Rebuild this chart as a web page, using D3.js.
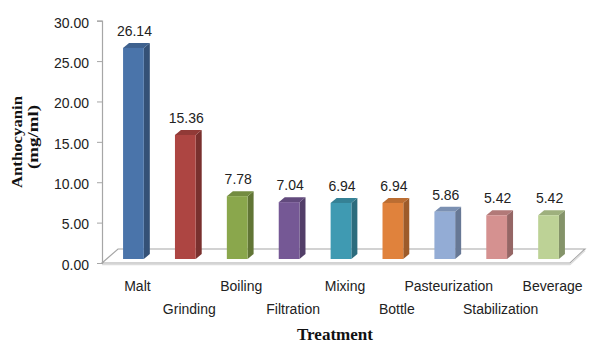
<!DOCTYPE html>
<html>
<head>
<meta charset="utf-8">
<script src="https://cdn.jsdelivr.net/npm/d3@7/dist/d3.min.js"></script>
<style>
  html, body { margin: 0; padding: 0; background: #fff; }
  svg { display: block; }
</style>
</head>
<body>
<svg id="chart" width="589" height="344"></svg>
<script>
const categories = ["Malt", "Grinding", "Boiling", "Filtration", "Mixing", "Bottle", "Pasteurization", "Stabilization", "Beverage"];
const values = [26.14, 15.36, 7.78, 7.04, 6.94, 6.94, 5.86, 5.42, 5.42];
const yTicks = [0, 5, 10, 15, 20, 25, 30];
const barColors = ["#4a74aa", "#ad4542", "#8aa74c", "#755895", "#3f9ab2", "#e0823c", "#93acd5", "#d59190", "#bdd296"];
const yTitleLines = ["Anthocyanin", "(mg/ml)"];
const xTitle = "Treatment";

const svg = d3.select("#chart");
const depthX = 6, depthY = 5;      // bar 3D depth
const floorDX = 16, floorDY = 14;  // floor depth
const barLift = 4;                 // bars stand mid-floor

const y = d3.scaleLinear().domain([0, 30]).range([263, 20.7]);
const x = d3.scaleBand().domain(categories).range([107.5, 574.5]).paddingInner(0.6).paddingOuter(0.3);

const axisX = 102;
const floorRight = 570;

// floor
const fy = y(0);
svg.append("path")
  .attr("d", `M${axisX},${fy} L${floorRight},${fy} L${floorRight + floorDX - 1},${fy - floorDY} L${axisX + floorDX},${fy - floorDY} Z`)
  .attr("fill", "#fff").attr("stroke", "#a6a6a6").attr("stroke-width", 1.2);
// floor shadow edge
svg.append("path")
  .attr("d", `M${axisX},${fy + 1.5} L${floorRight},${fy + 1.5} L${floorRight + floorDX - 1},${fy - floorDY + 1.5}`)
  .attr("fill", "none").attr("stroke", "#dcdcdc").attr("stroke-width", 1.5);

// y axis
const yAxis = d3.axisLeft(y).tickValues(yTicks).tickFormat(d3.format(".2f")).tickSize(5).tickPadding(8);
const gy = svg.append("g").attr("transform", `translate(${axisX},0)`).call(yAxis);
gy.select(".domain").attr("stroke", "#a6a6a6").attr("stroke-width", 1.2);
gy.selectAll(".tick line").attr("stroke", "#a6a6a6");
gy.selectAll(".tick text")
  .attr("font-family", "'Liberation Sans', Arial, sans-serif")
  .attr("font-size", "14px").attr("fill", "#222").attr("dy", "0.45em");

// bars
const bars = svg.append("g");
categories.forEach((c, i) => {
  const v = values[i];
  const x0 = x(c), w = x.bandwidth();
  const yt = y(v) - barLift, yb = y(0) - barLift;
  const base = d3.color(barColors[i]);
  const g = bars.append("g");
  // side
  g.append("path")
    .attr("d", `M${x0 + w},${yt} L${x0 + w + depthX},${yt - depthY} L${x0 + w + depthX},${yb - depthY} L${x0 + w},${yb} Z`)
    .attr("fill", base.darker(1.0));
  // top
  g.append("path")
    .attr("d", `M${x0},${yt} L${x0 + depthX},${yt - depthY} L${x0 + w + depthX},${yt - depthY} L${x0 + w},${yt} Z`)
    .attr("fill", base.darker(0.5));
  // front
  g.append("rect")
    .attr("x", x0).attr("y", yt).attr("width", w).attr("height", yb - yt)
    .attr("fill", base);
  // value label
  g.append("text")
    .attr("x", x0 + w / 2 + 1).attr("y", yt - 12)
    .attr("text-anchor", "middle")
    .attr("font-family", "'Liberation Sans', Arial, sans-serif")
    .attr("font-size", "14px").attr("fill", "#222")
    .text(v.toFixed(2));
});

// category labels (staggered)
svg.append("g").selectAll("text").data(categories).join("text")
  .attr("x", d => x(d) + x.bandwidth() / 2 + 4)
  .attr("y", (d, i) => i % 2 === 0 ? 291 : 314)
  .attr("text-anchor", "middle")
  .attr("font-family", "'Liberation Sans', Arial, sans-serif")
  .attr("font-size", "14px").attr("fill", "#222")
  .text(d => d);

// y title
const yt = svg.append("text")
  .attr("transform", "translate(22,142) rotate(-90)")
  .attr("text-anchor", "middle")
  .attr("font-family", "'Liberation Serif', 'Times New Roman', serif")
  .attr("font-weight", "bold").attr("font-size", "14px").attr("fill", "#111");
yt.append("tspan").attr("x", 0).attr("y", 0)
  .attr("textLength", 92).attr("lengthAdjust", "spacingAndGlyphs").text(yTitleLines[0]);
yt.append("tspan").attr("x", 5).attr("y", 16)
  .attr("textLength", 64).attr("lengthAdjust", "spacingAndGlyphs").text(yTitleLines[1]);

// x title
svg.append("text")
  .attr("x", 335).attr("y", 340)
  .attr("text-anchor", "middle")
  .attr("font-family", "'Liberation Serif', 'Times New Roman', serif")
  .attr("font-weight", "bold").attr("font-size", "16px").attr("fill", "#111")
  .attr("textLength", 76).attr("lengthAdjust", "spacingAndGlyphs")
  .text(xTitle);
</script>
</body>
</html>
